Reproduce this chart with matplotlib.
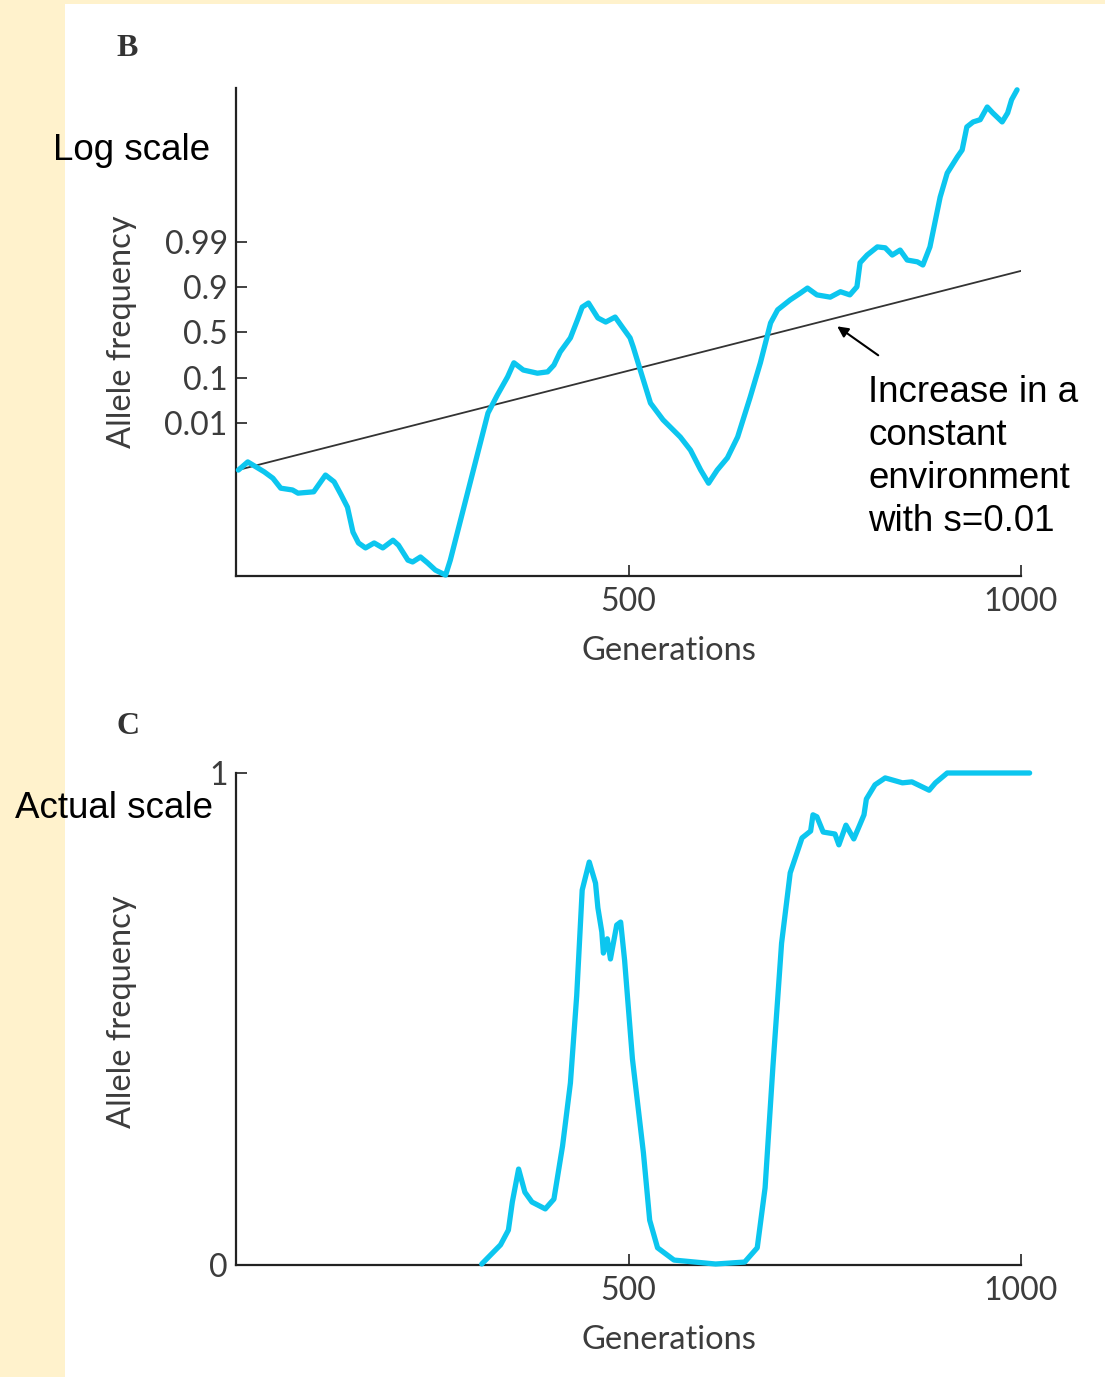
import matplotlib.pyplot as plt
from matplotlib.patches import Rectangle

# panel B: generations vs allele frequency on the stretched (log-like) scale
# y values are in "tick steps": 1 -> 0.01, 2 -> 0.1, 3 -> 0.5, 4 -> 0.9, 5 -> 0.99
gen_b = [3, 15, 36, 47, 57, 72, 79, 99, 114, 125, 134, 142, 149, 156, 165, 176, 187,
         200, 207, 219, 225, 235, 244, 254, 267, 273, 321, 333, 346, 354, 366, 384,
         397, 405, 413, 426, 435, 441, 449, 461, 471, 483, 492, 502, 506, 515, 528,
         544, 566, 579, 592, 602, 613, 626, 639, 655, 668, 681, 690, 706, 719, 728,
         740, 757, 770, 782, 791, 795, 804, 817, 827, 836, 846, 855, 868, 875, 884,
         897, 906, 919, 925, 931, 939, 948, 957, 964, 976, 983, 988, 995]
freq_b = [-0.04, 0.14, -0.08, -0.22, -0.44, -0.48, -0.55, -0.52, -0.15, -0.30, -0.59,
          -0.86, -1.41, -1.65, -1.76, -1.65, -1.76, -1.59, -1.70, -2.03, -2.07, -1.96,
          -2.09, -2.25, -2.36, -2.03, 1.22, 1.62, 2.02, 2.33, 2.17, 2.10, 2.13, 2.28,
          2.57, 2.88, 3.28, 3.56, 3.65, 3.32, 3.23, 3.34, 3.12, 2.88, 2.68, 2.17, 1.44,
          1.07, 0.69, 0.40, -0.04, -0.33, -0.04, 0.23, 0.69, 1.57, 2.33, 3.21, 3.50,
          3.72, 3.87, 3.98, 3.83, 3.78, 3.90, 3.83, 4.01, 4.54, 4.71, 4.89, 4.87, 4.71,
          4.82, 4.60, 4.56, 4.49, 4.89, 5.99, 6.52, 6.88, 7.03, 7.54, 7.65, 7.70, 7.98,
          7.85, 7.65, 7.85, 8.14, 8.36]
b_ticks = [1, 2, 3, 4, 5]
b_ticklabels = ['0.01', '0.1', '0.5', '0.9', '0.99']

# expected increase with s=0.01 (straight line on this scale)
const_gen = [0, 1000]
const_freq = [-0.05, 4.36]

# panel C: same run on the actual scale
gen_c = [313, 337, 347, 352, 360, 368, 377, 394, 405, 416, 426, 434, 441, 450, 458,
         461, 466, 468, 473, 477, 485, 490, 495, 505, 519, 527, 537, 558, 611, 648,
         664, 674, 684, 695, 706, 721, 732, 735, 740, 748, 763, 768, 777, 787, 795,
         800, 803, 814, 827, 849, 861, 883, 891, 906, 1011]
freq_c = [0.002, 0.041, 0.071, 0.128, 0.195, 0.148, 0.128, 0.114, 0.134, 0.242, 0.370,
          0.547, 0.762, 0.819, 0.776, 0.726, 0.677, 0.634, 0.663, 0.622, 0.691, 0.697,
          0.620, 0.419, 0.228, 0.091, 0.035, 0.010, 0.002, 0.006, 0.035, 0.157, 0.404,
          0.654, 0.797, 0.868, 0.882, 0.915, 0.911, 0.880, 0.876, 0.854, 0.894, 0.866,
          0.896, 0.915, 0.947, 0.976, 0.990, 0.980, 0.982, 0.965, 0.980, 1.0, 1.0]

CYAN = '#0cc6ef'
INK = '#222222'
GREY = '#3c3c3c'
LBL_FONT = ['Lato', 'DejaVu Sans']

fig = plt.figure(figsize=(11.05, 13.77), dpi=100)
fig.patch.set_facecolor('#fff2cc')
fig.patches.append(Rectangle((65 / 1105, 0), 1 - 65 / 1105, 1 - 4 / 1377,
                             transform=fig.transFigure, facecolor='white',
                             edgecolor='none', zorder=-10))


def style_axes(ax):
    for side in ['top', 'right']:
        ax.spines[side].set_visible(False)
    for side in ['left', 'bottom']:
        ax.spines[side].set_color(INK)
        ax.spines[side].set_linewidth(1.6)
    ax.set_facecolor('none')
    ax.set_xlim(0, 1000)
    ax.set_xticks([500, 1000])
    ax.set_xticklabels(['500', '1000'])
    ax.tick_params(direction='in', length=8, width=1.2, color=INK, labelsize=23,
                   labelcolor=GREY)
    ax.tick_params(axis='y', pad=6)
    ax.tick_params(axis='x', pad=8)
    for lab in ax.get_xticklabels() + ax.get_yticklabels():
        lab.set_family(LBL_FONT)
    ax.text(0.552, -0.153, 'Generations', transform=ax.transAxes, ha='center',
            va='center', fontsize=23.5, color=GREY, family=LBL_FONT)


# top panel (B)
axb = fig.add_axes([236 / 1105, 1 - 576 / 1377, 785 / 1105, 488 / 1377])
axb.plot(gen_b, freq_b, color=CYAN, lw=3.8, solid_joinstyle='round',
         solid_capstyle='round', clip_on=False, zorder=3)
axb.plot(const_gen, const_freq, color='#333333', lw=1.3, zorder=2)
axb.set_ylim(-2.38, 8.40)
axb.set_yticks(b_ticks)
axb.set_yticklabels(b_ticklabels)
style_axes(axb)
axb.text(-0.145, 0.5, 'Allele frequency', transform=axb.transAxes, rotation=90,
         ha='center', va='center', fontsize=23.5, color=GREY, family=LBL_FONT)
axb.annotate('', xy=(763, 3.17), xytext=(821, 2.46),
             arrowprops=dict(arrowstyle='-|>', color='black', lw=1.5,
                             mutation_scale=16))

# bottom panel (C)
axc = fig.add_axes([236 / 1105, 1 - 1265 / 1377, 785 / 1105, 492 / 1377])
axc.plot(gen_c, freq_c, color=CYAN, lw=3.8, solid_joinstyle='round',
         solid_capstyle='round', clip_on=False, zorder=3)
axc.set_ylim(0, 1)
axc.set_yticks([0, 1])
axc.set_yticklabels(['0', '1'])
style_axes(axc)
axc.text(-0.145, 0.515, 'Allele frequency', transform=axc.transAxes, rotation=90,
         ha='center', va='center', fontsize=23.5, color=GREY, family=LBL_FONT)

# panel letters and slide annotations
fig.text(127 / 1105, 1 - 48 / 1377, 'B', fontsize=23, fontweight='bold',
         family='Liberation Serif', color='#333333', ha='center', va='center')
fig.text(128 / 1105, 1 - 727 / 1377, 'C', fontsize=23, fontweight='bold',
         family='Liberation Serif', color='#333333', ha='center', va='center')
fig.text(53 / 1105, 1 - 151 / 1377, 'Log scale', fontsize=26.5,
         family='Liberation Sans', color='black', ha='left', va='center')
fig.text(15 / 1105, 1 - 808 / 1377, 'Actual scale', fontsize=26.5,
         family='Liberation Sans', color='black', ha='left', va='center')
fig.text(868 / 1105, 1 - 457 / 1377, 'Increase in a\nconstant\nenvironment\nwith s=0.01',
         fontsize=26.5, family='Liberation Sans', color='black', ha='left',
         va='center', linespacing=1.3)

fig.savefig('out.png', dpi=100)
